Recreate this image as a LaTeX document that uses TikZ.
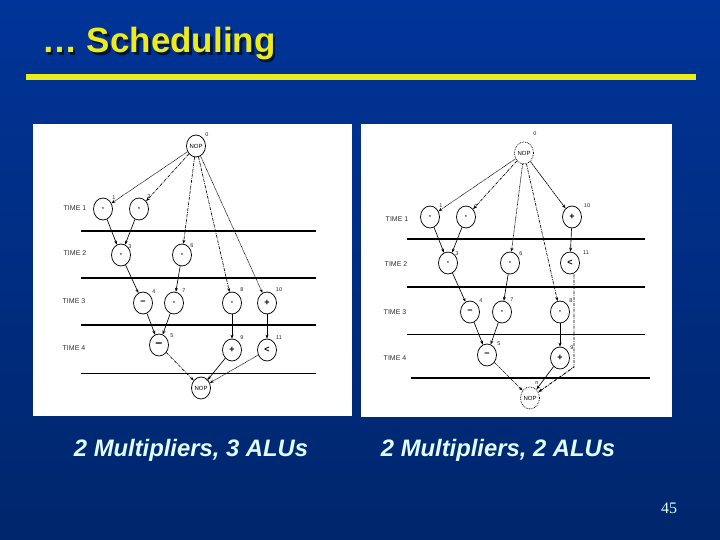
\documentclass[tikz,border=0pt]{standalone}
\usepackage{fontspec}
\setmainfont{Liberation Sans}
\newfontfamily\timesf{Liberation Serif}
\usetikzlibrary{shapes.geometric,arrows.meta}
\definecolor{bgtop}{RGB}{0,52,152}
\definecolor{bgbot}{RGB}{0,38,108}
\definecolor{ttl}{RGB}{236,236,28}
\definecolor{shd}{RGB}{0,20,60}
\definecolor{lbl}{RGB}{226,255,255}
\newcommand{\symb}[1]{{\fontsize{9}{9}\selectfont\bfseries #1}}
\begin{document}
\begin{tikzpicture}[x=1pt,y=-1pt,
 op/.style={ellipse,draw,line width=0.75pt,minimum width=19pt,minimum height=22pt,inner sep=0pt,font=\fontsize{6}{6}\selectfont},
 nopsty/.style={op,densely dotted},
 num/.style={font=\fontsize{5.5}{6}\selectfont,inner sep=0pt,text=black!85},
 tlab/.style={font=\fontsize{7}{7}\selectfont,text=black!80,inner sep=0pt},
 arr/.style={-{Stealth[length=4pt,width=3pt]},line width=0.65pt},
 dots/.style={dash pattern=on 0.7pt off 0.6pt},
 dashdot/.style={dash pattern=on 3pt off 1pt on 0.7pt off 1pt},
 thickrule/.style={line width=1.8pt},
 thinrule/.style={line width=0.8pt},
 bottomlbl/.style={font=\bfseries\itshape\fontsize{23.8}{26}\selectfont,text=lbl,inner sep=0pt}]
% background
\shade[top color=bgtop,bottom color=bgbot] (0,0) rectangle (720,540);
\useasboundingbox (0,0) rectangle (720,540);
% title (with drop shadow in the same node)
\node[anchor=base west,inner sep=0pt,font=\bfseries\fontsize{35}{40}\selectfont] (title) at (42,53)
  {\makebox[0pt][l]{\hspace{2.5pt}\raisebox{-2.5pt}{\textcolor{shd}{… Scheduling}}}\textcolor{ttl}{… Scheduling}};
\fill[ttl] (26,74) rectangle (696,80);
% panels
\fill[white] (33,124) rectangle (352,416);
\fill[white] (361,124) rectangle (672,417);
% ---------------- left diagram ----------------
\draw[thickrule] (81,231) -- (316,231);
\draw[thickrule] (81,277.7) -- (316,277.7);
\draw[thickrule] (81,325) -- (316,325);
\draw[thinrule] (81,373) -- (316,373);
\node[tlab] (lt1) at (75,208) {TIME 1};
\node[tlab] (lt2) at (75,253) {TIME 2};
\node[tlab] (lt3) at (74,301) {TIME 3};
\node[tlab] (lt4) at (74,348) {TIME 4};
\node[op] (L0) at (196,146) {NOP};
\node[op] (L1) at (103,209) {*};
\node[op] (L2) at (139,209) {*};
\node[op] (L3) at (121,255) {*};
\node[op] (L6) at (182,255) {*};
\node[op] (L4) at (143,303) {\symb{−}};
\node[op] (L7) at (174,303) {*};
\node[op] (L8) at (232,303) {*};
\node[op] (L10) at (267,303) {\symb{+}};
\node[op] (L5) at (159,345) {{\fontsize{12}{12}\selectfont\bfseries −}};
\node[op] (L9) at (232,350) {\symb{+}};
\node[op] (L11) at (267,350) {\symb{<}};
\node[op] (Lnb) at (201,388) {NOP};
\node[num] (ln0) at (207,135) {0};
\node[num] (ln1) at (114,198) {1};
\node[num] (ln2) at (149,197) {2};
\node[num] (ln3) at (130,247) {3};
\node[num] (ln6) at (192,246) {6};
\node[num] (ln4) at (154,292) {4};
\node[num] (ln7) at (184,291) {7};
\node[num] (ln8) at (242,290) {8};
\node[num] (ln10) at (279,290) {10};
\node[num] (ln5) at (172,336) {5};
\node[num] (ln9) at (242,338) {9};
\node[num] (ln11) at (279,338) {11};
\node[num] (lnn) at (208,380) {n};
\draw[arr,dots] (L0) -- (L1);
\draw[arr,dashdot] (L0) -- (L2);
\draw[arr,dashdot] (L0) -- (L6);
\draw[arr,dashdot] (L0) -- (L8);
\draw[arr,dots] (L0) -- (L10);
\draw[arr] (L1) -- (L3);
\draw[arr] (L2) -- (L3);
\draw[arr] (L3) -- (L4);
\draw[arr] (L6) -- (L7);
\draw[arr] (L4) -- (L5);
\draw[arr] (L7) -- (L5);
\draw[arr] (L8) -- (L9);
\draw[arr] (L10) -- (L11);
\draw[arr,dashdot] (L5) -- (Lnb);
\draw[arr] (L9) -- (Lnb);
\draw[arr,dots] (L11) -- (Lnb);
% ---------------- right diagram ----------------
\draw[thickrule] (407,239.3) -- (645,239.3);
\draw[thickrule] (407,286.7) -- (645,286.7);
\draw[thinrule] (407,334.3) -- (645,334.3);
\draw[thickrule] (411,377.7) -- (650,377.7);
\node[tlab] (rt1) at (397,219) {TIME 1};
\node[tlab] (rt2) at (396,264) {TIME 2};
\node[tlab] (rt3) at (395,312) {TIME 3};
\node[tlab] (rt4) at (395,358) {TIME 4};
\node[nopsty] (R0) at (524,153) {NOP};
\node[op] (R1) at (430,217) {*};
\node[op] (R2) at (466,217) {*};
\node[op] (R10) at (572,217) {\symb{+}};
\node[op] (R3) at (448,263) {*};
\node[op] (R6) at (510,263) {*};
\node[op] (R11) at (570,263) {\symb{<}};
\node[op] (R4) at (470,312) {\symb{−}};
\node[op] (R7) at (502,312) {*};
\node[op] (R8) at (560,312) {*};
\node[op] (R5) at (487,355) {\symb{−}};
\node[op] (R9) at (560,358) {\symb{+}};
\node[nopsty] (Rnb) at (530,398) {NOP};
\node[num] (rn0) at (535,134) {0};
\node[num] (rn1) at (441,206) {1};
\node[num] (rn2) at (476,207) {2};
\node[num] (rn10) at (587,206) {10};
\node[num] (rn3) at (457,254) {3};
\node[num] (rn6) at (521,254) {6};
\node[num] (rn11) at (586,253) {11};
\node[num] (rn4) at (481,301) {4};
\node[num] (rn7) at (512,300) {7};
\node[num] (rn8) at (571,301) {8};
\node[num] (rn5) at (499,344) {5};
\node[num] (rn9) at (572,348) {9};
\node[num] (rnn) at (537,383) {n};
\coordinate (rc) at (574,367);
\draw[arr,dots] (R0) -- (R1);
\draw[arr,dashdot] (R0) -- (R2);
\draw[arr,dots] (R0) -- (R6);
\draw[arr,dashdot] (R0) -- (R8);
\draw[arr,dash pattern=on 2pt off 0.6pt] (R0) -- (R10);
\draw[arr] (R1) -- (R3);
\draw[arr] (R2) -- (R3);
\draw[arr] (R10) -- (R11);
\draw[arr] (R3) -- (R4);
\draw[arr] (R6) -- (R7);
\draw[arr] (R4) -- (R5);
\draw[arr] (R7) -- (R5);
\draw[arr] (R8) -- (R9);
\draw[arr,dashdot] (R5) -- (Rnb);
\draw[arr] (R9) -- (Rnb);
\draw[arr,dashdot,line width=0.9pt] (R11.south -| rc) -- (rc) -- (Rnb);
% ---------------- captions ----------------
\node[bottomlbl] (cap1) at (191,450) {2 Multipliers, 3 ALUs};
\node[bottomlbl] (cap2) at (498,450) {2 Multipliers, 2 ALUs};
\node[inner sep=0pt,text=lbl,font=\timesf\fontsize{16}{16}\selectfont] (pnum) at (669,508) {45};
\end{tikzpicture}
\end{document}
